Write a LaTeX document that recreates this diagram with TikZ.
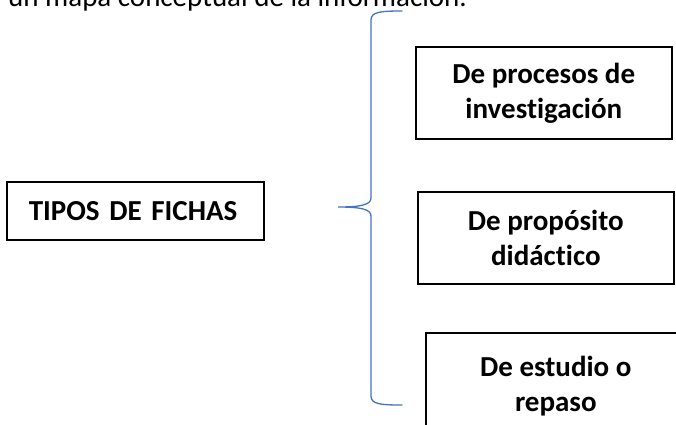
\documentclass[tikz,border=0pt]{standalone}
\usepackage{fontspec}
\setmainfont{Carlito}[RawFeature=-liga]
\definecolor{braceblue}{HTML}{4472C4}
\tikzset{
  fichabox/.style={draw=black, line width=1.6pt, fill=white, align=center,
    font=\bfseries\fontsize{29}{35}\selectfont, inner sep=0pt},
  bracestyle/.style={draw=braceblue, line width=1.3pt, line cap=round}
}
\begin{document}
\begin{tikzpicture}[x=1pt,y=-1pt]
\useasboundingbox (0,0) rectangle (676,424);
\clip (0,0) rectangle (676,424);
\node[anchor=base west, inner sep=0pt, font=\fontsize{29}{35}\selectfont] (intro) at (8,6) {un mapa conceptual de la información.};
% main box
\node[fichabox, anchor=north west, minimum height=58pt, text width=213pt, inner xsep=22pt, align=left] (tipos) at (6,181) {TIPOS DE FICHAS};
% right boxes
\node[fichabox, anchor=north west, minimum width=256pt, minimum height=92pt] (proc) at (415,46) {De procesos de\\investigación};
\node[fichabox, anchor=north west, minimum width=256pt, minimum height=92pt] (prop) at (417,191) {De propósito\\didáctico};
\node[fichabox, anchor=north west, minimum width=260pt, minimum height=106pt] (estu) at (425,332) {De estudio o\\repaso};
% brace
\coordinate (btop) at (402,11);
\coordinate (bmid) at (338,207);
\coordinate (bbot) at (402,405);
\draw[bracestyle] (btop) .. controls (380,11) and (371,12) .. (371,20)
  -- (371,198) .. controls (371,205) and (360,207) .. (bmid)
  .. controls (360,207) and (371,209) .. (371,216)
  -- (371,396) .. controls (371,404) and (380,405) .. (bbot);
\end{tikzpicture}
\end{document}
